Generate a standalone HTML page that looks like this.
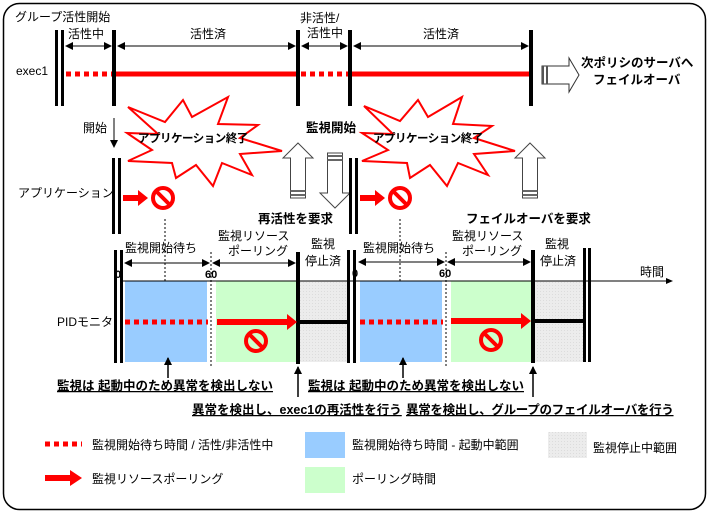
<!DOCTYPE html>
<html><head><meta charset="utf-8"><style>
html,body{margin:0;padding:0;background:#fff}
svg{display:block}
text{font-family:"Liberation Sans","Noto Sans CJK JP",sans-serif;font-size:12px;fill:#000}
.b{font-weight:bold;font-size:12.5px}
.s{font-weight:bold;font-size:11.5px;letter-spacing:-0.5px}
</style></head><body>
<svg width="709" height="513" viewBox="0 0 709 513" xmlns="http://www.w3.org/2000/svg">
<defs>
<marker id="ah" markerWidth="8" markerHeight="8" refX="7" refY="4" orient="auto-start-reverse" markerUnits="userSpaceOnUse"><path d="M0,0 L8,4 L0,8 z" fill="#000"/></marker>
<pattern id="gp" width="3" height="3" patternUnits="userSpaceOnUse"><rect width="3" height="3" fill="#ececec"/><rect width="1" height="1" fill="#dcdcdc"/></pattern>
<g id="noc"><circle r="10" fill="none" stroke="#f00" stroke-width="4"/><line x1="-7" y1="-7" x2="7" y2="7" stroke="#f00" stroke-width="4"/></g>
<g id="up"><path d="M0,0 L15,15 L7.5,15 L7.5,55 L-7.5,55 L-7.5,15 L-15,15 z" fill="#fff" stroke="#444" stroke-width="1"/><rect x="-7.5" y="47" width="15" height="2" fill="#666"/><rect x="-7.5" y="51" width="15" height="2" fill="#666"/></g>
</defs>
<rect x="3.5" y="3.5" width="702" height="506" rx="16" fill="#fff" stroke="#000" stroke-width="1.5"/>

<!-- top exec1 -->
<text x="15" y="21">グループ活性開始</text>
<text x="16" y="75">exec1</text>
<rect x="55" y="30" width="3" height="76" fill="#000"/><rect x="61" y="30" width="3" height="76" fill="#000"/>
<rect x="112" y="30" width="4" height="76" fill="#000"/>
<rect x="296" y="30" width="4" height="76" fill="#000"/>
<rect x="348" y="30" width="4" height="76" fill="#000"/>
<rect x="529" y="30" width="4" height="76" fill="#000"/>
<g stroke="#000" stroke-width="1">
<line x1="66" y1="46" x2="111" y2="46" marker-start="url(#ah)" marker-end="url(#ah)"/>
<line x1="118" y1="46" x2="295" y2="46" marker-start="url(#ah)" marker-end="url(#ah)"/>
<line x1="302" y1="46" x2="347" y2="46" marker-start="url(#ah)" marker-end="url(#ah)"/>
<line x1="354" y1="46" x2="528" y2="46" marker-start="url(#ah)" marker-end="url(#ah)"/>
</g>
<text x="68" y="38">活性中</text>
<text x="190" y="38">活性済</text>
<text x="300" y="22">非活性/</text>
<text x="307" y="37">活性中</text>
<text x="423" y="38">活性済</text>
<line x1="66" y1="74" x2="112" y2="74" stroke="#f00" stroke-width="5" stroke-dasharray="5,4"/>
<line x1="116" y1="74" x2="296" y2="74" stroke="#f00" stroke-width="5"/>
<line x1="301" y1="74" x2="348" y2="74" stroke="#f00" stroke-width="5" stroke-dasharray="5,4"/>
<line x1="352" y1="74" x2="529" y2="74" stroke="#f00" stroke-width="5"/>
<path d="M542,66 L569,66 L569,58 L579,75 L569,92 L569,84 L542,84 z" fill="#fff" stroke="#333"/>
<rect x="542" y="66" width="2" height="18" fill="#555"/><rect x="546" y="66" width="2" height="18" fill="#555"/>
<text x="581" y="67" class="b">次ポリシのサーバへ</text>
<text x="593" y="84" class="b">フェイルオーバ</text>

<!-- start -->
<text x="83" y="132">開始</text>
<line x1="114" y1="118" x2="114" y2="147" stroke="#000" marker-end="url(#ah)"/>

<!-- starbursts -->
<path d="M128,107 L165,122 L183,100 L192,117 L228,97 L218,124 L258,125 L240,138 L282,151 L240,154 L252,175 L222,163 L213,186 L196,165 L176,178 L172,163 L128,161 L152,150 L127,133 L158,134 z" fill="#fff" stroke="#f00" stroke-width="2"/>
<text x="138" y="142" class="s">アプリケーション終了</text>
<path d="M364,106 L400,121 L418,100 L428,117 L462,97 L453,124 L492,126 L474,138 L515,151 L474,154 L488,175 L458,163 L447,186 L430,165 L410,178 L407,163 L362,161 L388,150 L362,133 L393,134 z" fill="#fff" stroke="#f00" stroke-width="2"/>
<text x="373" y="142" class="s">アプリケーション終了</text>

<!-- hollow arrows -->
<use href="#up" x="298" y="143"/>
<use href="#up" transform="translate(335,208) rotate(180)"/>
<use href="#up" x="530" y="143"/>
<text x="306" y="132" class="b">監視開始</text>
<text x="258" y="223" class="b">再活性を要求</text>
<text x="466" y="223" class="b">フェイルオーバを要求</text>

<!-- application -->
<text x="18" y="197">アプリケーション</text>
<rect x="112" y="158" width="3" height="76" fill="#000"/><rect x="118" y="158" width="3" height="76" fill="#000"/>
<rect x="349" y="158" width="3" height="76" fill="#000"/><rect x="355" y="158" width="3" height="76" fill="#000"/>
<path d="M123,195 L138,195 L138,190 L148,198 L138,206 L138,201 L123,201 z" fill="#f00"/>
<path d="M360,195 L375,195 L375,190 L385,198 L375,206 L375,201 L360,201 z" fill="#f00"/>
<use href="#noc" x="163" y="198"/>
<use href="#noc" x="400" y="198"/>
<line x1="165" y1="219" x2="165" y2="310" stroke="#000" stroke-dasharray="2,2"/>
<path d="M162,309 L168,309 L165,316 z" fill="#000"/>
<line x1="400" y1="219" x2="400" y2="310" stroke="#000" stroke-dasharray="2,2"/>
<path d="M397,309 L403,309 L400,316 z" fill="#000"/>

<!-- PID section -->
<rect x="125" y="281" width="82" height="81" fill="#99ccff"/>
<rect x="216" y="281" width="81" height="81" fill="#ccffcc"/>
<rect x="300" y="281" width="47" height="81" fill="url(#gp)"/>
<rect x="360" y="281" width="82" height="81" fill="#99ccff"/>
<rect x="451" y="281" width="80" height="81" fill="#ccffcc"/>
<rect x="535" y="281" width="48" height="81" fill="url(#gp)"/>
<line x1="121" y1="281" x2="670" y2="281" stroke="#000"/>
<path d="M666,278 L673,281 L666,284 z" fill="#000"/>
<text x="640" y="276">時間</text>
<rect x="114" y="250" width="3" height="113" fill="#000"/><rect x="120" y="250" width="3" height="113" fill="#000"/>
<rect x="296" y="252" width="4" height="112" fill="#000"/>
<rect x="347" y="250" width="3" height="113" fill="#000"/><rect x="353" y="250" width="3" height="113" fill="#000"/>
<rect x="531" y="250" width="4" height="113" fill="#000"/>
<rect x="583" y="248" width="3" height="114" fill="#000"/><rect x="588" y="248" width="3" height="114" fill="#000"/>
<line x1="211" y1="252" x2="211" y2="366" stroke="#000" stroke-dasharray="2,2"/>
<line x1="446" y1="252" x2="446" y2="366" stroke="#000" stroke-dasharray="2,2"/>
<g stroke="#000">
<line x1="125" y1="263" x2="209" y2="263" marker-start="url(#ah)" marker-end="url(#ah)"/>
<line x1="213" y1="263" x2="295" y2="263" marker-start="url(#ah)" marker-end="url(#ah)"/>
<line x1="359" y1="262" x2="444" y2="262" marker-start="url(#ah)" marker-end="url(#ah)"/>
<line x1="448" y1="262" x2="530" y2="262" marker-start="url(#ah)" marker-end="url(#ah)"/>
</g>
<text x="125" y="252">監視開始待ち</text>
<text x="218" y="240">監視リソース</text>
<text x="228" y="255">ポーリング</text>
<text x="311" y="248">監視</text>
<text x="305" y="265">停止済</text>
<text x="363" y="252">監視開始待ち</text>
<text x="452" y="240">監視リソース</text>
<text x="462" y="255">ポーリング</text>
<text x="545" y="248">監視</text>
<text x="540" y="265">停止済</text>
<text x="115" y="278" class="b" style="font-size:11px">0</text>
<text x="205" y="278" class="b" style="font-size:11px">60</text>
<text x="352" y="277" class="b" style="font-size:11px">0</text>
<text x="439" y="277" class="b" style="font-size:11px">60</text>
<text x="57" y="326">PIDモニタ</text>
<line x1="125" y1="322" x2="208" y2="322" stroke="#f00" stroke-width="5" stroke-dasharray="5,4"/>
<line x1="360" y1="322" x2="443" y2="322" stroke="#f00" stroke-width="5" stroke-dasharray="5,4"/>
<path d="M217,319 L287,319 L287,314 L297,322 L287,330 L287,325 L217,325 z" fill="#f00"/>
<path d="M451,318 L521,318 L521,313 L531,321 L521,329 L521,324 L451,324 z" fill="#f00"/>
<line x1="300" y1="322" x2="347" y2="322" stroke="#000" stroke-width="4"/>
<line x1="535" y1="321" x2="583" y2="321" stroke="#000" stroke-width="4"/>
<use href="#noc" x="256" y="341"/>
<use href="#noc" x="491" y="340"/>
<g stroke="#000" stroke-width="1.5">
<line x1="168" y1="378" x2="168" y2="358" marker-end="url(#ah)"/>
<line x1="403" y1="378" x2="403" y2="358" marker-end="url(#ah)"/>
<line x1="298" y1="397" x2="298" y2="367" marker-end="url(#ah)"/>
<line x1="533" y1="397" x2="533" y2="367" marker-end="url(#ah)"/>
</g>
<text x="57" y="390" class="b" text-decoration="underline">監視は 起動中のため異常を検出しない</text>
<text x="308" y="390" class="b" text-decoration="underline">監視は 起動中のため異常を検出しない</text>
<text x="192" y="414" class="b" text-decoration="underline">異常を検出し、exec1の再活性を行う</text>
<text x="406" y="414" class="b" text-decoration="underline" style="letter-spacing:-0.3px">異常を検出し、グループのフェイルオーバを行う</text>

<!-- legend -->
<line x1="45" y1="444" x2="82" y2="444" stroke="#f00" stroke-width="5" stroke-dasharray="5,4"/>
<text x="92" y="449">監視開始待ち時間 / 活性/非活性中</text>
<rect x="305" y="432" width="40" height="26" fill="#99ccff"/>
<text x="352" y="449">監視開始待ち時間 - 起動中範囲</text>
<rect x="548" y="432" width="39" height="26" fill="url(#gp)"/>
<text x="593" y="452">監視停止中範囲</text>
<path d="M45,475 L70,475 L70,470 L82,478 L70,486 L70,481 L45,481 z" fill="#f00"/>
<text x="92" y="483">監視リソースポーリング</text>
<rect x="305" y="467" width="40" height="26" fill="#ccffcc"/>
<text x="352" y="483">ポーリング時間</text>
</svg>
</body></html>
